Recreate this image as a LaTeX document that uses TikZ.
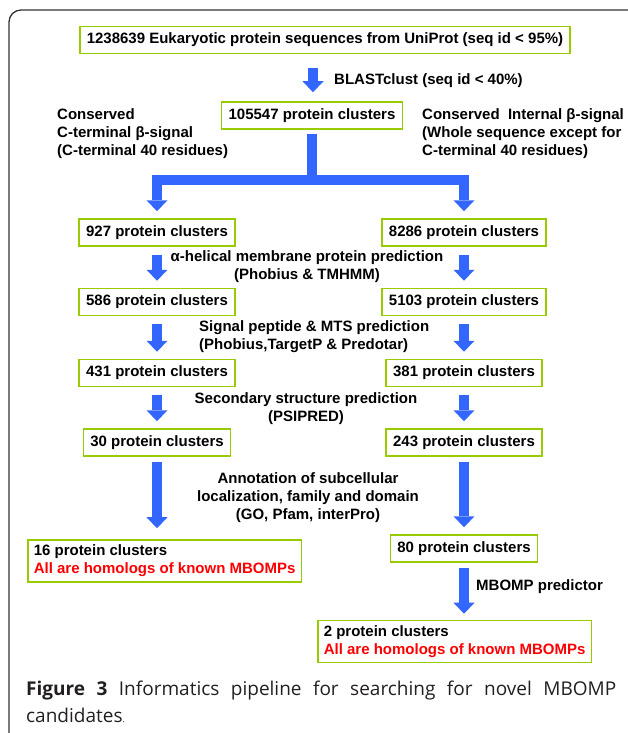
\documentclass[tikz,border=0pt]{standalone}
\usepackage{fontspec}
\setmainfont{Liberation Sans}
\newfontfamily\capfont{Open Sans}
\usepackage{tikz}
\usetikzlibrary{arrows.meta}
\definecolor{PipeBoxColor}{RGB}{153,204,0}
\definecolor{PipeArrowColor}{RGB}{51,102,255}
\definecolor{PipeFrameColor}{RGB}{51,51,51}
\definecolor{PipeCapColor}{RGB}{35,31,32}

\begin{document}
\begin{tikzpicture}[x=1pt,y=-1pt,font=\fontsize{15}{18}\selectfont\bfseries,
  box/.style={draw=PipeBoxColor,line width=1.5pt,minimum height=27pt,inner xsep=7pt,inner ysep=0pt},
  twobox/.style={draw=PipeBoxColor,line width=1.5pt,align=left,inner xsep=6pt,inner ysep=5pt,anchor=west},
  blk/.style={PipeArrowColor,line width=10pt,line join=miter,-{Triangle[width=21pt,length=11pt,line width=0pt]},shorten <=8pt,shorten >=7pt},
  lbl/.style={align=center,inner sep=0pt}]
\useasboundingbox (0,0) rectangle (627,733);
\draw[PipeFrameColor,line width=1.3pt,rounded corners=12pt] (9,740) -- (9,10) -- (640,10);
% top of the pipeline
\node[box] (uniprot) at (325,40) {1238639 Eukaryotic protein sequences from UniProt (seq id < 95\%)};
\node[box] (blast) at (312,115.5) {105547 protein clusters};
\draw[blk,shorten <=14pt,shorten >=9pt] (uniprot.south -| 313,0) -- (blast.north -| 313,0);
\node[lbl,anchor=west] (blastlbl) at (334,81) {BLASTclust (seq id < 40\%)};
\node[lbl,anchor=west,align=left] (ctermlbl) at (57,134) {Conserved\\C-terminal β-signal\\(C-terminal 40 residues)};
\node[lbl,anchor=west,align=left] (intlbl) at (422,134) {Conserved~ Internal β-signal\\(Whole sequence except for\\C-terminal 40 residues)};
% the two columns
\foreach \nm/\y/\l/\r in {a/232.5/927/8286,b/302/586/5103,c/373/431/381,d/442.5/30/243} {
   \node[box] (L\nm) at (157,\y) {\l{} protein clusters};
   \node[box] (R\nm) at (464,\y) {\r{} protein clusters};
}
\coordinate (split) at (312,180);
\draw[blk,shorten <=4pt] (blast) -- (split) -| (La);
\draw[blk,shorten <=4pt] (blast) -- (split) -| (Ra);
\foreach \a/\b in {a/b,b/c,c/d} {
   \draw[blk] (L\a) -- (L\b);
   \draw[blk] (R\a) -- (R\b);
}
\node[lbl] (alphalbl) at (307,267) {α-helical membrane protein prediction\\(Phobius \& TMHMM)};
\node[lbl,anchor=west,align=left] (sigLbl) at (199,337) {Signal peptide \& MTS prediction\\(Phobius,TargetP \& Predotar)};
\node[lbl] (psilbl) at (306,409) {Secondary structure prediction\\(PSIPRED)};
% final steps
\node[twobox] (Le) at (27,561) {16 protein clusters\\\textcolor{red}{All are homologs of known MBOMPs}};
\node[box] (Re) at (464,548.5) {80 protein clusters};
\node[twobox] (Rf) at (317,641.5) {2 protein clusters\\\textcolor{red}{All are homologs of known MBOMPs}};
\draw[blk,shorten <=5pt,shorten >=11pt] (Ld) -- (Ld |- Le.north);
\draw[blk,shorten <=5pt] (Rd) -- (Re);
\draw[blk,shorten <=5pt,shorten >=6pt] (Re) -- (Re |- Rf.north);
\node[lbl] (annlbl) at (308,498) {Annotation of subcellular\\localization, family and domain\\(GO, Pfam, interPro)};
\node[lbl,anchor=west] (mbomplbl) at (476,587) {MBOMP predictor};
\node[anchor=west,inner sep=0pt,align=left,text=PipeCapColor,font=\capfont\fontsize{19}{27}\selectfont] (caption) at (26,702)
   {\makebox[590pt][s]{\textbf{Figure 3} Informatics pipeline for searching for novel MBOMP}\\candidates{\small .}};
\end{tikzpicture}
\end{document}
